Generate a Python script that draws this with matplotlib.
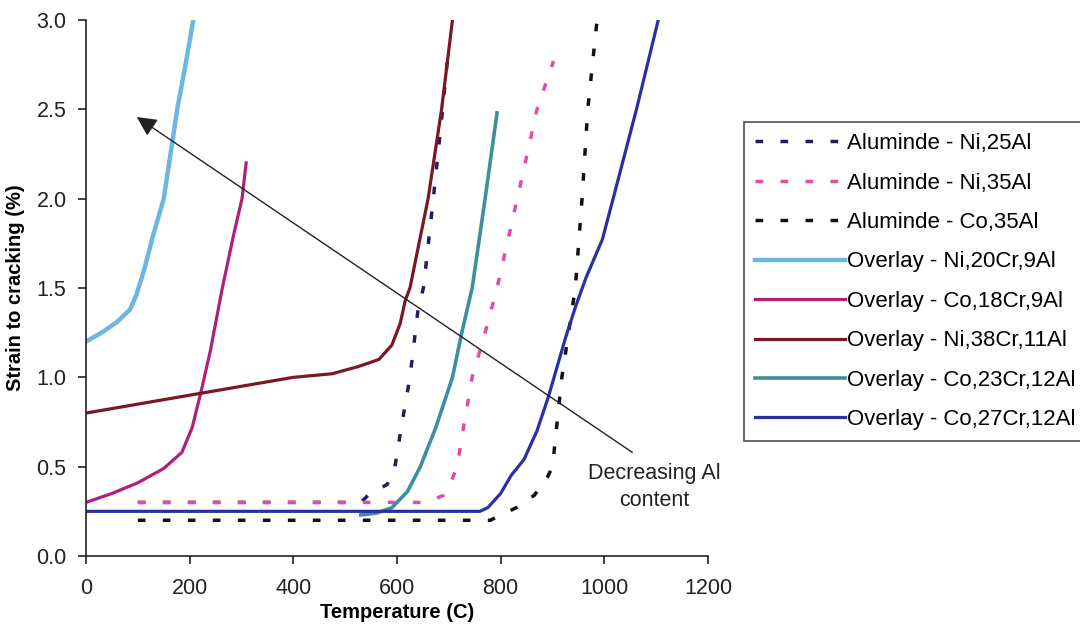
import numpy as np
import matplotlib
matplotlib.use('Agg')
import matplotlib.pyplot as plt

plt.rcParams['font.family'] = ['Liberation Sans', 'DejaVu Sans']

# Aluminide coatings (dashed)
ni25al_t = [100, 300, 530, 548, 581, 596, 610, 625, 641, 651, 670, 688, 698]
ni25al_s = [0.30, 0.30, 0.30, 0.35, 0.40, 0.50, 0.75, 1.00, 1.39, 1.50, 2.00, 2.50, 2.80]

ni35al_t = [100, 300, 550, 655, 690, 705, 716, 730, 745, 770, 793, 832, 870, 902]
ni35al_s = [0.30, 0.30, 0.30, 0.30, 0.34, 0.42, 0.50, 0.75, 1.00, 1.25, 1.50, 2.00, 2.50, 2.77]

co35al_t = [100, 400, 780, 800, 830, 865, 890, 900, 918, 931, 944, 957, 968, 986]
co35al_s = [0.20, 0.20, 0.20, 0.23, 0.27, 0.34, 0.44, 0.50, 1.00, 1.25, 1.50, 2.00, 2.50, 3.00]

# Overlay coatings (solid)
ni20cr_t = [0, 30, 60, 85, 97, 112, 130, 150, 176, 192, 207]
ni20cr_s = [1.20, 1.25, 1.31, 1.38, 1.46, 1.60, 1.80, 2.00, 2.50, 2.75, 3.00]

co18cr_t = [0, 50, 100, 150, 185, 205, 222, 240, 263, 285, 301, 309]
co18cr_s = [0.30, 0.35, 0.41, 0.49, 0.58, 0.72, 0.92, 1.15, 1.50, 1.80, 2.00, 2.20]

ni38cr_t = [0, 100, 200, 300, 400, 475, 525, 565, 590, 606, 616, 625, 660, 686, 707]
ni38cr_s = [0.80, 0.85, 0.90, 0.95, 1.00, 1.02, 1.06, 1.10, 1.18, 1.30, 1.43, 1.50, 2.00, 2.50, 3.00]

co23cr_t = [530, 560, 590, 620, 645, 675, 707, 725, 745, 770, 793]
co23cr_s = [0.23, 0.24, 0.27, 0.36, 0.50, 0.72, 1.00, 1.25, 1.50, 2.00, 2.48]

co27cr_t = [0, 500, 760, 775, 800, 820, 845, 870, 892, 903, 925, 945, 965, 996, 1017, 1062, 1104]
co27cr_s = [0.25, 0.25, 0.25, 0.27, 0.35, 0.45, 0.54, 0.70, 0.89, 1.00, 1.22, 1.40, 1.56, 1.77, 2.00, 2.50, 3.00]

fig = plt.figure(figsize=(10.8, 6.34), dpi=100)
ax = fig.add_axes([86/1080, 1 - 556/634, (708 - 86)/1080, (556 - 20)/634])

dash = (0, (2.2, 5))
ax.plot(ni25al_t, ni25al_s, color='#1f1f5c', lw=2.5, ls=dash, label='Aluminde - Ni,25Al')
ax.plot(ni35al_t, ni35al_s, color='#e64aa5', lw=2.5, ls=dash, label='Aluminde - Ni,35Al')
ax.plot(co35al_t, co35al_s, color='#111111', lw=2.5, ls=dash, label='Aluminde - Co,35Al')
ax.plot(ni20cr_t, ni20cr_s, color='#6cb6e0', lw=3.2, label='Overlay - Ni,20Cr,9Al')
ax.plot(co18cr_t, co18cr_s, color='#b0207a', lw=2.3, label='Overlay - Co,18Cr,9Al')
ax.plot(ni38cr_t, ni38cr_s, color='#7b1626', lw=2.3, label='Overlay - Ni,38Cr,11Al')
ax.plot(co23cr_t, co23cr_s, color='#3d8f9f', lw=2.6, label='Overlay - Co,23Cr,12Al')
ax.plot(co27cr_t, co27cr_s, color='#2b2fa3', lw=2.3, label='Overlay - Co,27Cr,12Al')

# arrow "Decreasing Al content"
ax.annotate('', xy=(98, 2.457), xytext=(1054, 0.58),
            arrowprops=dict(arrowstyle='-|>', color='#222222', lw=1.0,
                            mutation_scale=30, shrinkA=0, shrinkB=0),
            annotation_clip=False)
ax.text(1097, 0.385, 'Decreasing Al\ncontent', ha='center', va='center',
        fontsize=15.5, color='#222222', linespacing=1.35)

ax.set_xlim(0, 1200)
ax.set_ylim(0, 3.0)
ax.set_xticks(np.arange(0, 1201, 200))
ax.set_yticks(np.arange(0, 3.01, 0.5))
ax.set_yticklabels([f'{v:.1f}' for v in np.arange(0, 3.01, 0.5)])
ax.tick_params(axis='both', labelsize=15.5, colors='#222222', length=6, width=1.2)
ax.tick_params(axis='x', pad=10)
ax.tick_params(axis='y', pad=8)
for s in ['top', 'right']:
    ax.spines[s].set_visible(False)
for s in ['left', 'bottom']:
    ax.spines[s].set_linewidth(1.2)
    ax.spines[s].set_color('#222222')

ax.set_xlabel('Temperature (C)', fontsize=14.5, fontweight='bold')
ax.set_ylabel('Strain to cracking (%)', fontsize=14.5, fontweight='bold')
ax.xaxis.set_label_coords(0.5, -0.088)
ax.yaxis.set_label_coords(-0.098, 0.5)

leg = fig.legend(loc='upper left', bbox_to_anchor=(744/1080, 1 - 122/634),
                 fontsize=16, frameon=True, fancybox=False, shadow=False,
                 handlelength=4.05, handletextpad=0.1, labelspacing=0.83,
                 borderpad=0.5, borderaxespad=0)
leg.get_frame().set_edgecolor('#222222')
leg.get_frame().set_linewidth(1.2)

fig.savefig('out.png', dpi=100)
